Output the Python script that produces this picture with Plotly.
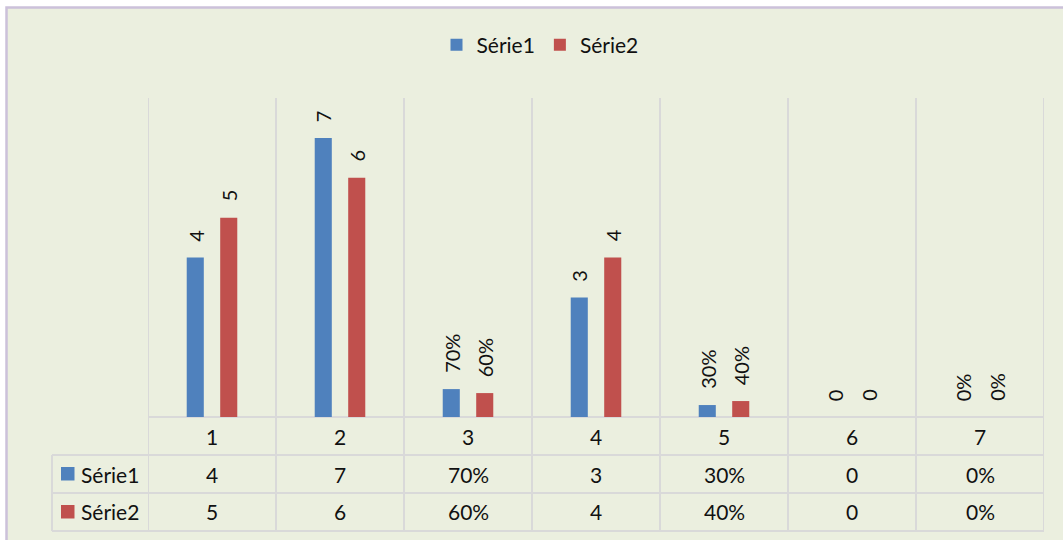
import plotly.graph_objects as go

# ---- data ----
categories = [1, 2, 3, 4, 5, 6, 7]
serie1 = [4, 7, 0.7, 3, 0.3, 0, 0]
serie2 = [5, 6, 0.6, 4, 0.4, 0, 0]
serie1_labels = ["4", "7", "70%", "3", "30%", "0", "0%"]
serie2_labels = ["5", "6", "60%", "4", "40%", "0", "0%"]
series_names = ["Série1", "Série2"]
header_labels = ["1", "2", "3", "4", "5", "6", "7"]

# ---- style ----
BLUE = "#4F81BD"
RED = "#C0504D"
BG = "#EBEFDF"
BORDER = "#CCC1DA"
GRID = "#D9D9D9"
FONT = "Lato, 'Open Sans', sans-serif"
TXT = "#111111"
FS = 21

W, H = 1063, 540
L, R, T, B = 148, 1044, 98, 417
PW, PH = R - L, B - T
BARGAP = 0.477
BARGROUPGAP = 0.49


def py(p):
    return (B - p) / PH


def px(p):
    return (p - L) / PW


fig = go.Figure()
for name, vals, col in [(series_names[0], serie1, BLUE), (series_names[1], serie2, RED)]:
    fig.add_trace(go.Bar(x=categories, y=vals, name=name, marker=dict(color=col, line=dict(width=0)),
                         hoverinfo="skip"))

shapes = []
# chart background with border
shapes.append(dict(type="rect", xref="paper", yref="paper", x0=px(6.5), x1=px(W + 20), y0=py(7.5), y1=py(H + 20),
                   fillcolor=BG, line=dict(color=BORDER, width=2.5), layer="below"))

# vertical grid / table lines at category boundaries
bounds = [c - 0.5 for c in categories] + [categories[-1] + 0.5]
for xb in bounds:
    shapes.append(dict(type="line", xref="x", yref="paper", x0=xb, x1=xb, y0=1, y1=py(531),
                       line=dict(color=GRID, width=2), layer="below"))
# horizontal table lines
shapes.append(dict(type="line", xref="paper", yref="paper", x0=0, x1=1, y0=0, y1=0,
                   line=dict(color=GRID, width=2), layer="below"))
for yb in [455, 493, 531]:
    shapes.append(dict(type="line", xref="paper", yref="paper", x0=px(52), x1=1, y0=py(yb), y1=py(yb),
                       line=dict(color=GRID, width=2), layer="below"))
shapes.append(dict(type="line", xref="paper", yref="paper", x0=px(52), x1=px(52), y0=py(455), y1=py(531),
                   line=dict(color=GRID, width=2), layer="below"))

annotations = []
# bar data labels (rotated)
off = (1 - BARGAP) / 4
for vals, labs, sign in [(serie1, serie1_labels, -1), (serie2, serie2_labels, 1)]:
    for c, v, t in zip(categories, vals, labs):
        annotations.append(dict(x=c + sign * off, y=v, xref="x", yref="y", text=t, textangle=-90,
                                showarrow=False, yanchor="bottom", xanchor="center", yshift=14,
                                font=dict(family=FONT, size=FS - 1, color=TXT)))

# table header row
for c, t in zip(categories, header_labels):
    annotations.append(dict(x=c, y=py(436), xref="x", yref="paper", text=t, showarrow=False,
                            xanchor="center", yanchor="middle",
                            font=dict(family=FONT, size=FS, color=TXT)))
# table series rows
rows = [(474, series_names[0], serie1_labels, BLUE), (512, series_names[1], serie2_labels, RED)]
for yc, name, labs, col in rows:
    for c, t in zip(categories, labs):
        annotations.append(dict(x=c, y=py(yc), xref="x", yref="paper", text=t, showarrow=False,
                                xanchor="center", yanchor="middle",
                                font=dict(family=FONT, size=FS, color=TXT)))
    annotations.append(dict(x=px(79), y=py(yc), xref="paper", yref="paper", text=name, showarrow=False,
                            xanchor="left", yanchor="middle", font=dict(family=FONT, size=FS, color=TXT)))
    shapes.append(dict(type="rect", xref="paper", yref="paper", x0=px(61), x1=px(74.5),
                       y0=py(yc - 7), y1=py(yc + 6.5), fillcolor=col, line=dict(width=0)))

fig.update_layout(
    width=W, height=H,
    margin=dict(l=L, r=W - R, t=T, b=H - B, pad=0),
    paper_bgcolor="white", plot_bgcolor="rgba(0,0,0,0)",
    barmode="group", bargap=BARGAP, bargroupgap=BARGROUPGAP,
    xaxis=dict(range=[0.5, 7.5], showticklabels=False, showgrid=False, zeroline=False, ticks=""),
    yaxis=dict(range=[0, 8], showticklabels=False, showgrid=False, zeroline=False, ticks=""),
    showlegend=True,
    legend=dict(orientation="h", x=px(540), y=py(45), xanchor="center", yanchor="middle",
                font=dict(family=FONT, size=FS, color=TXT), bgcolor="rgba(0,0,0,0)"),
    shapes=shapes, annotations=annotations,
    font=dict(family=FONT),
)

fig.write_html("out.html", config={"displayModeBar": False},
               post_script="document.body.style.margin='0';")
